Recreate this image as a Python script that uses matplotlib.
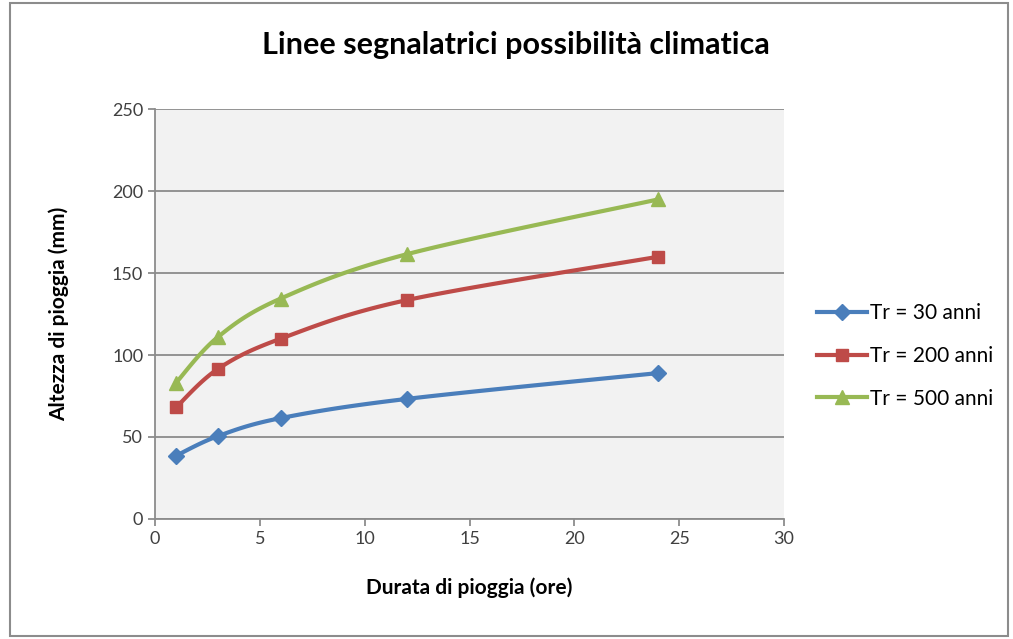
import numpy as np
import matplotlib
matplotlib.use("Agg")
import matplotlib.pyplot as plt
from matplotlib.patches import Rectangle

plt.rcParams['font.family'] = ['Lato', 'DejaVu Sans']

durata = [1, 3, 6, 12, 24]
tr30 = [38.5, 50.5, 61.5, 73.2, 89]
tr200 = [68, 91.5, 110, 133.5, 160]
tr500 = [83, 111, 134.5, 161.5, 195]
labels = ["Tr = 30 anni", "Tr = 200 anni", "Tr = 500 anni"]
colori = ["#4A7EBB", "#BE4B48", "#98B954"]
marker = ["D", "s", "^"]
msize = [8, 9, 10]


def smooth(x, y, n=30):
    # curva tipo Excel (Catmull-Rom -> Bezier)
    x = np.asarray(x, float)
    y = np.asarray(y, float)
    px, py = [], []
    for i in range(len(x) - 1):
        i0 = max(i - 1, 0)
        i3 = min(i + 2, len(x) - 1)
        p0 = np.array([x[i], y[i]])
        p3 = np.array([x[i + 1], y[i + 1]])
        c1 = p0 + (np.array([x[i + 1], y[i + 1]]) - np.array([x[i0], y[i0]])) / 6
        c2 = p3 - (np.array([x[i3], y[i3]]) - np.array([x[i], y[i]])) / 6
        t = np.linspace(0, 1, n)[:, None]
        b = (1 - t) ** 3 * p0 + 3 * (1 - t) ** 2 * t * c1 + 3 * (1 - t) * t ** 2 * c2 + t ** 3 * p3
        px.extend(b[:, 0])
        py.extend(b[:, 1])
    return px, py


fig = plt.figure(figsize=(10.13, 6.39), dpi=100)
fig.patches.append(Rectangle((10 / 1013, 0.005), 0.995 - 10 / 1013, 0.99, transform=fig.transFigure,
                             fill=False, edgecolor="#8C8C8C", linewidth=1.5))
ax = fig.add_axes([0.153, 0.188, 0.621, 0.641])
ax.set_facecolor("#F2F2F2")

for serie, lab, c, m, ms in zip([tr30, tr200, tr500], labels, colori, marker, msize):
    sx, sy = smooth(durata, serie)
    ax.plot(sx, sy, color=c, lw=3, zorder=3)
    ax.plot(durata, serie, linestyle="none", marker=m, ms=ms, color=c, zorder=4)
    ax.plot([], [], color=c, lw=3, marker=m, ms=ms, label=lab)

ax.set_xlim(0, 30)
ax.set_ylim(0, 250)
ax.set_xticks(range(0, 31, 5))
ax.set_yticks(range(0, 251, 50))
ax.yaxis.grid(True, color="#8C8C8C", lw=1.3)
ax.set_axisbelow(True)
for s in ["top", "right"]:
    ax.spines[s].set_visible(False)
for s in ["left", "bottom"]:
    ax.spines[s].set_color("#8C8C8C")
    ax.spines[s].set_linewidth(1.3)
ax.tick_params(colors="#8C8C8C", labelcolor="#404040", labelsize=13, length=5, width=1.3)

ax.set_xlabel("Durata di pioggia (ore)", fontsize=15, fontweight="bold")
ax.set_ylabel("Altezza di pioggia (mm)", fontsize=15, fontweight="bold")
ax.xaxis.set_label_coords(0.5, -0.144)
ax.yaxis.set_label_coords(-0.137, 0.5)
fig.text(0.509, 0.93, "Linee segnalatrici possibilità climatica", ha="center", va="center",
         fontsize=22, fontweight="bold")

ax.legend(loc="center left", bbox_to_anchor=(1.0525, 0.398), frameon=False, fontsize=15,
          handlelength=2.4, labelspacing=1.1, borderaxespad=0, borderpad=0, handletextpad=0.15)

fig.savefig("out.png", dpi=100)
